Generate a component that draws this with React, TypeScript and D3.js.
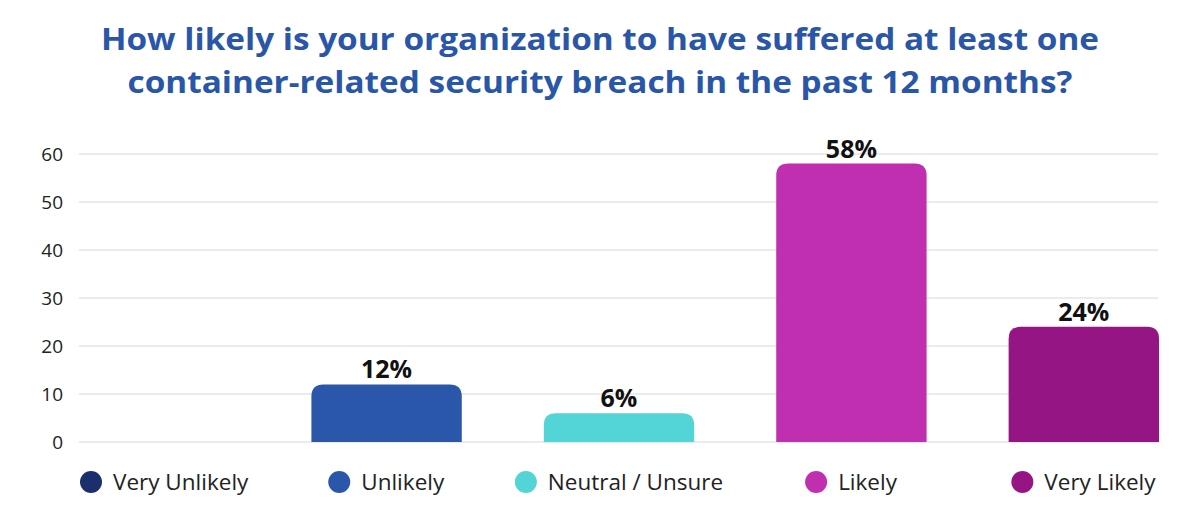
import * as d3 from "d3";
import React, { useEffect, useRef } from "react";

const categories = ["Very Unlikely", "Unlikely", "Neutral / Unsure", "Likely", "Very Likely"];
const values = [0, 12, 6, 58, 24];
const colors = ["#1b2f6c", "#2a57aa", "#53d4d7", "#c02fb0", "#951585"];
const yTicks = [0, 10, 20, 30, 40, 50, 60];
const titleLines = [
  "How likely is your organization to have suffered at least one",
  "container-related security breach in the past 12 months?",
];

const WIDTH = 1200;
const HEIGHT = 508;
const FONT = "'Open Sans', 'DejaVu Sans', sans-serif";

const topRoundedRect = (x: number, y: number, w: number, h: number, r: number) => {
  const rr = Math.min(r, h, w / 2);
  if (h <= 0) return "";
  return (
    `M${x},${y + h}` +
    `V${y + rr}` +
    `Q${x},${y} ${x + rr},${y}` +
    `H${x + w - rr}` +
    `Q${x + w},${y} ${x + w},${y + rr}` +
    `V${y + h}Z`
  );
};

export default function App() {
  const ref = useRef<SVGSVGElement>(null);

  useEffect(() => {
    const svg = d3.select(ref.current);
    svg.selectAll("*").remove();

    svg.append("rect").attr("width", WIDTH).attr("height", HEIGHT).attr("fill", "#fff");

    // title
    const titleWidths = [998, 945];
    svg
      .selectAll("text.title")
      .data(titleLines)
      .enter()
      .append("text")
      .attr("class", "title")
      .attr("x", WIDTH / 2)
      .attr("y", (d, i) => 50 + i * 43)
      .attr("text-anchor", "middle")
      .attr("font-family", FONT)
      .attr("font-weight", 700)
      .attr("font-size", 31)
      .attr("fill", "#2a56a8")
      .attr("textLength", (d, i) => titleWidths[i])
      .attr("lengthAdjust", "spacingAndGlyphs")
      .text((d) => d);

    const x = d3.scaleBand<string>().domain(categories).range([79, 1159]).paddingInner(0.353).paddingOuter(0);
    const y = d3.scaleLinear().domain([0, 60]).range([442, 154]);

    // grid
    const g = svg.append("g");
    g.selectAll("line.grid")
      .data(yTicks)
      .enter()
      .append("line")
      .attr("x1", 79)
      .attr("x2", 1158)
      .attr("y1", (d) => y(d))
      .attr("y2", (d) => y(d))
      .attr("stroke", "#e4e4e4")
      .attr("stroke-width", 1.5);

    g.selectAll("text.tick")
      .data(yTicks)
      .enter()
      .append("text")
      .attr("x", 63)
      .attr("y", (d) => y(d))
      .attr("dy", "0.36em")
      .attr("text-anchor", "end")
      .attr("font-family", FONT)
      .attr("font-size", 19)
      .attr("fill", "#222")
      .text((d) => d);

    // bars
    const bars = categories.map((c, i) => ({ c, v: values[i], color: colors[i] }));
    g.selectAll("path.bar")
      .data(bars.filter((b) => b.v > 0))
      .enter()
      .append("path")
      .attr("d", (b) => topRoundedRect(x(b.c)!, y(b.v), x.bandwidth(), y(0) - y(b.v), 12))
      .attr("fill", (b) => b.color);

    g.selectAll("text.label")
      .data(bars.filter((b) => b.v > 0))
      .enter()
      .append("text")
      .attr("x", (b) => x(b.c)! + x.bandwidth() / 2)
      .attr("y", (b) => y(b.v) - 6)
      .attr("text-anchor", "middle")
      .attr("font-family", FONT)
      .attr("font-weight", 700)
      .attr("font-size", 25)
      .attr("fill", "#111")
      .text((b) => b.v + "%");

    // legend, each item centred under its bar but kept inside the plot
    bars.forEach((b) => {
      const item = svg.append("g");
      item.append("circle").attr("cx", 11).attr("cy", 482).attr("r", 11).attr("fill", b.color);
      item
        .append("text")
        .attr("x", 33)
        .attr("y", 482)
        .attr("dy", "0.36em")
        .attr("font-family", FONT)
        .attr("font-size", 22.5)
        .attr("fill", "#222")
        .text(b.c);
      const w = (item.node() as SVGGElement).getBBox().width;
      const cx = x(b.c)! + x.bandwidth() / 2;
      const left = Math.min(Math.max(80, cx - w / 2), 1158 - w);
      item.attr("transform", `translate(${left},0)`);
    });
  }, []);

  return (
    <svg
      ref={ref}
      width={WIDTH}
      height={HEIGHT}
      style={{ position: "absolute", left: 0, top: 0, display: "block" }}
    />
  );
}
